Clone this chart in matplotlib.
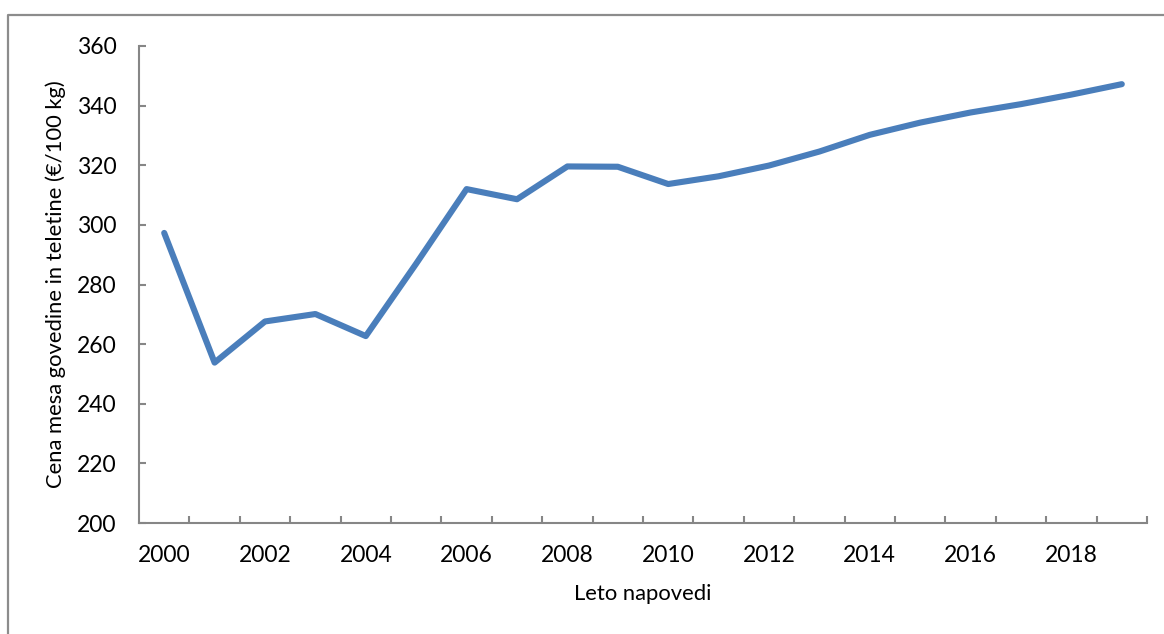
"""Cena mesa govedine in teletine - napoved po letih."""
import matplotlib
matplotlib.use("Agg")
import matplotlib.pyplot as plt
from matplotlib.lines import Line2D

# data
years = list(range(2000, 2020))
prices = [297.3, 253.8, 267.6, 270.1, 262.7, 287.0, 312.0, 308.6, 319.6, 319.5,
          313.7, 316.3, 319.9, 324.6, 330.2, 334.3, 337.7, 340.5, 343.7, 347.2]
label_years = list(range(2000, 2019, 2))
y_ticks = list(range(200, 361, 20))

plt.rcParams['font.family'] = ['Lato', 'DejaVu Sans']

W, H = 1164, 634
fig = plt.figure(figsize=(W / 100, H / 100), dpi=100)
ax = fig.add_axes([139 / W, 1 - 523 / H, (1147 - 139) / W, (523 - 46) / H])

ax.plot(years, prices, color='#4a7ebb', lw=4.4,
        solid_capstyle='round', solid_joinstyle='round')

axis_grey = '#868686'
ax.set_xlim(years[0] - 0.5, years[-1] + 0.5)
ax.set_ylim(y_ticks[0], y_ticks[-1])

# Excel-like category axis: ticks between categories, labels on every 2nd year
ax.set_xticks([y + 0.5 for y in years])
ax.set_xticklabels([])
ax.set_xticks(label_years, minor=True)
ax.set_xticklabels([str(y) for y in label_years], minor=True)
ax.tick_params(axis='x', which='major', direction='in', length=5,
               width=1.5, color=axis_grey)
ax.tick_params(axis='x', which='minor', length=0, pad=16,
               labelsize=16.5, labelcolor='black')

ax.set_yticks(y_ticks)
ax.tick_params(axis='y', direction='in', length=5, width=1.5,
               color=axis_grey, pad=16, labelsize=16.5)

for side in ['top', 'right']:
    ax.spines[side].set_visible(False)
for side in ['left', 'bottom']:
    ax.spines[side].set_color(axis_grey)
    ax.spines[side].set_linewidth(1.5)

ax.set_xlabel("Leto napovedi", fontsize=15.8, labelpad=13)
ax.set_ylabel("Cena mesa govedine in teletine (€/100 kg)", fontsize=15.8, labelpad=8)

# outer chart frame (only left and top edges fall inside the picture)
fig.add_artist(Line2D([8 / W, 8 / W, 1.0], [0.0, 1 - 15 / H, 1 - 15 / H],
                      transform=fig.transFigure, color='#8c8c8c', lw=1.6))

fig.savefig("out.png", dpi=100)
